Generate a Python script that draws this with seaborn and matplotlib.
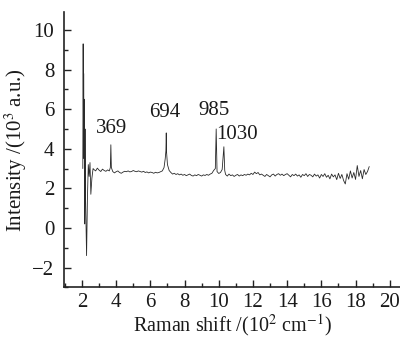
import numpy as np
import pandas as pd
import seaborn as sns
import matplotlib.pyplot as plt
from matplotlib.ticker import MultipleLocator

# Raman shift (10^2 cm^-1) and intensity (10^3 a.u.)
shift = [
    2.05, 2.07, 2.09, 2.10, 2.12, 2.14, 2.16, 2.18, 2.20, 2.23, 2.27, 2.32, 2.37, 2.42,
    2.47, 2.52, 2.58, 2.65,
    2.7, 2.8, 2.9, 3.0, 3.1, 3.2, 3.3, 3.4, 3.5, 3.6, 3.66, 3.69, 3.72,
    3.8, 3.9, 4.0, 4.1, 4.2, 4.3, 4.4, 4.5, 4.6, 4.7, 4.8, 4.9, 5.0, 5.1, 5.2, 5.3,
    5.4, 5.5, 5.6, 5.7, 5.8, 5.9, 6.0, 6.1, 6.2, 6.3, 6.4, 6.5, 6.6, 6.7, 6.8,
    6.87, 6.91, 6.93, 6.95, 7.0, 7.1, 7.2, 7.3, 7.4, 7.5, 7.6, 7.7, 7.8, 7.9, 8.0, 8.1,
    8.2, 8.3, 8.4, 8.5, 8.6, 8.7, 8.8, 8.9, 9.0, 9.1, 9.2, 9.3, 9.4, 9.5, 9.6, 9.7,
    9.8, 9.85, 9.9, 10.0, 10.1, 10.2, 10.3, 10.35, 10.4, 10.5, 10.6, 10.7, 10.8,
    10.9, 11.0, 11.1, 11.2, 11.3, 11.4, 11.5, 11.6, 11.7, 11.8, 11.9, 12.0, 12.1,
    12.2, 12.3, 12.4, 12.5, 12.6, 12.7, 12.8, 12.9, 13.0, 13.1, 13.2, 13.3, 13.4,
    13.5, 13.6, 13.7, 13.8, 13.9, 14.0, 14.1, 14.2, 14.3, 14.4, 14.5, 14.6, 14.7,
    14.8, 14.9, 15.0, 15.1, 15.2, 15.3, 15.4, 15.5, 15.6, 15.7, 15.8, 15.9, 16.0,
    16.1, 16.2, 16.3, 16.4, 16.5, 16.6, 16.7, 16.8, 16.9, 17.0, 17.1, 17.2, 17.3,
    17.4, 17.5, 17.6, 17.7, 17.8, 17.9, 18.0, 18.1, 18.2, 18.3, 18.4, 18.5, 18.6,
    18.7, 18.8,
]
intensity = [
    3.0, 9.3, 4.5, 7.8, 3.5, 6.5, 0.2, 5.0, 2.0, 0.5, -1.4, 1.5, 3.2, 2.6,
    3.3, 1.7, 2.5, 3.0,
    2.95, 2.88, 3.02, 2.92, 2.85, 2.97, 2.90, 2.86, 2.93, 2.88, 3.05, 4.2, 3.05,
    2.85, 2.78, 2.84, 2.88, 2.80, 2.76, 2.82, 2.86, 2.84, 2.88, 2.83, 2.85, 2.90, 2.86, 2.84, 2.88,
    2.85, 2.82, 2.86, 2.80, 2.83, 2.78, 2.82, 2.80, 2.76, 2.81, 2.78, 2.80, 2.84, 2.88, 3.05,
    3.5, 3.9, 4.8, 3.8, 3.2, 2.9, 2.80, 2.72, 2.76, 2.70, 2.74, 2.68, 2.72, 2.66, 2.70, 2.64,
    2.68, 2.72, 2.65, 2.62, 2.68, 2.64, 2.70, 2.66, 2.62, 2.68, 2.65, 2.70, 2.66, 2.72, 2.76, 2.90,
    3.0, 5.0, 2.85, 2.75, 2.80, 2.95, 4.1, 2.9, 2.70, 2.62, 2.72, 2.64, 2.68,
    2.60, 2.66, 2.70, 2.62, 2.68, 2.64, 2.70, 2.66, 2.72, 2.68, 2.76, 2.70, 2.82,
    2.74, 2.80, 2.68, 2.72, 2.66, 2.60, 2.70, 2.64, 2.58, 2.68, 2.72, 2.62, 2.70,
    2.74, 2.66, 2.72, 2.64, 2.70, 2.74, 2.66, 2.58, 2.70, 2.64, 2.72, 2.62, 2.68,
    2.56, 2.70, 2.64, 2.74, 2.60, 2.70, 2.66, 2.58, 2.72, 2.62, 2.68, 2.52, 2.70,
    2.60, 2.74, 2.56, 2.66, 2.48, 2.72, 2.58, 2.68, 2.44, 2.76, 2.50, 2.70, 2.40,
    2.22, 2.74, 2.46, 2.88, 2.52, 2.80, 2.45, 3.15, 2.60, 2.90, 2.48, 2.95, 2.70,
    2.85, 3.10,
]

peak_labels = ["369", "694", "985", "1030"]
label_x = [3.75, 6.85, 9.72, 11.06]
label_y = [5.0, 5.83, 5.93, 4.72]

df = pd.DataFrame({"shift": shift, "intensity": intensity})

sns.set_style("ticks")
plt.rcParams["font.family"] = ["Liberation Serif", "DejaVu Serif"]
plt.rcParams["mathtext.fontset"] = "stix"

fig = plt.figure(figsize=(4.0, 3.38), dpi=100)
ax = fig.add_axes([0.16, 0.15, 0.84, 0.814])

sns.lineplot(data=df, x="shift", y="intensity", ax=ax, color="#2a2a2a",
             linewidth=0.6, sort=False, estimator=None)

for txt, tx, ty in zip(peak_labels, label_x, label_y):
    ax.text(tx, ty, txt, ha="center", va="center", fontsize=15, color="#1a1a1a")

ax.set_xlim(0.95, 20.6)
ax.set_ylim(-3, 10.9)
ax.xaxis.set_major_locator(MultipleLocator(2))
ax.xaxis.set_minor_locator(MultipleLocator(1))
ax.yaxis.set_major_locator(MultipleLocator(2))
ax.yaxis.set_minor_locator(MultipleLocator(1))
ax.tick_params(which="both", direction="in", labelsize=15, width=1,
               color="#222222", labelcolor="#1a1a1a")
ax.tick_params(which="major", length=5)
ax.tick_params(which="minor", length=3)
ax.tick_params(axis="y", which="major", pad=7)
ax.tick_params(axis="x", which="major", pad=4)
ax.set_yticks([-2, 0, 2, 4, 6, 8, 10])
ax.set_yticklabels(["\u22122", "0", "2", "4", "6", "8", "10"])

ax.set_xlabel("Raman shift /(10$^2$ cm$^{-1}$)", fontsize=14.5, labelpad=0,
              color="#1a1a1a")
ax.set_ylabel("Intensity /(10$^3$ a.u.)", fontsize=15, labelpad=2,
              color="#1a1a1a")
sns.despine(ax=ax)
for s in ["left", "bottom"]:
    ax.spines[s].set_linewidth(1.2)
    ax.spines[s].set_color("#222222")

fig.savefig("out.png", dpi=100)
